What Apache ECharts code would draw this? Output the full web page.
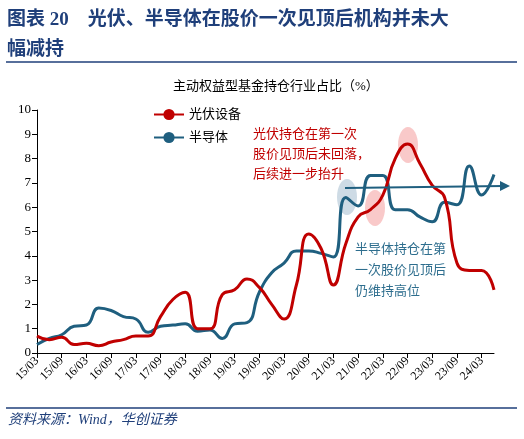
<!DOCTYPE html>
<html>
<head>
<meta charset="utf-8">
<script src="https://cdn.jsdelivr.net/npm/echarts@6/dist/echarts.min.js"></script>
<style>html,body{margin:0;padding:0;background:#fff}#chart{width:524px;height:439px}</style>
</head>
<body>
<div id="chart"></div>
<script>
const quarters = ['15/03','15/06','15/09','15/12','16/03','16/06','16/09','16/12','17/03','17/06','17/09','17/12',
  '18/03','18/06','18/09','18/12','19/03','19/06','19/09','19/12','20/03','20/06','20/09','20/12',
  '21/03','21/06','21/09','21/12','22/03','22/06','22/09','22/12','23/03','23/06','23/09','23/12','24/03','24/06'];
const solar = [0.7,0.55,0.65,0.35,0.4,0.3,0.45,0.55,0.7,0.7,1.5,2.2,2.5,1.0,1.0,2.4,2.6,3.05,2.7,2.0,1.4,2.8,4.9,4.3,
  2.8,4.5,5.6,5.9,6.5,8.0,8.6,7.8,6.9,6.4,3.7,3.4,3.4,2.6];
const semi = [0.35,0.6,0.75,1.1,1.15,1.85,1.75,1.5,1.4,0.85,1.1,1.15,1.2,0.9,0.95,0.6,1.2,1.25,2.5,3.3,3.7,4.2,4.2,4.1,
  3.95,6.4,6.05,7.3,7.3,5.9,5.9,5.6,5.4,6.2,6.1,7.7,6.5,7.35];

const RED = '#c00000', BLUE = '#1f5f7f', NAVY = '#1f3f7a';
const serif = 'Liberation Serif, Noto Sans CJK SC';
const chart = echarts.init(document.getElementById('chart'));
chart.setOption({
  animation: false,
  grid: { left: 37, right: 30, top: 110, bottom: 86 },
  legend: {
    orient: 'vertical', left: 148, top: 103, itemGap: 10, itemWidth: 30, itemHeight: 14,
    textStyle: { fontSize: 13, color: '#000', fontFamily: serif },
    data: ['光伏设备', '半导体']
  },
  xAxis: {
    type: 'category', data: quarters, boundaryGap: false,
    axisLine: { lineStyle: { color: '#000' } },
    axisTick: { interval: 1, lineStyle: { color: '#000' } },
    axisLabel: { interval: 1, rotate: 45, fontSize: 12, color: '#000', fontFamily: serif, margin: 6 }
  },
  yAxis: {
    type: 'value', min: 0, max: 10, interval: 1,
    splitLine: { show: false },
    axisLine: { show: true, lineStyle: { color: '#000' } },
    axisTick: { show: true, lineStyle: { color: '#000' } },
    axisLabel: { fontSize: 13, color: '#000', fontFamily: serif, margin: 6 }
  },
  series: [
    { name: '光伏设备', type: 'line', data: solar, smooth: 0.5, symbol: 'none', lineStyle: { color: RED, width: 3 }, itemStyle: { color: RED }, z: 3 },
    { name: '半导体', type: 'line', data: semi, smooth: 0.5, symbol: 'none', lineStyle: { color: BLUE, width: 3 }, itemStyle: { color: BLUE }, z: 2 }
  ],
  graphic: [
    { type: 'text', left: 7, top: 5, style: { text: '图表 20　光伏、半导体在股价一次见顶后机构并未大\n幅减持', fill: NAVY, font: 'bold 19px ' + serif, lineHeight: 30 } },
    { type: 'line', shape: { x1: 6, y1: 62, x2: 517, y2: 62 }, style: { stroke: NAVY, lineWidth: 1.5 } },
    { type: 'text', left: 173, top: 80, style: { text: '主动权益型基金持仓行业占比（%）', fill: '#000', font: '13px ' + serif } },
    { type: 'line', shape: { x1: 6, y1: 408, x2: 517, y2: 408 }, style: { stroke: NAVY, lineWidth: 1.5 } },
    { type: 'text', left: 8, top: 413, style: { text: '资料来源：Wind，华创证券', fill: NAVY, font: 'italic 14px ' + serif } },
    { type: 'ellipse', shape: { cx: 408, cy: 145, rx: 10, ry: 18 }, style: { fill: 'rgba(240,120,120,0.4)' }, z: 1 },
    { type: 'ellipse', shape: { cx: 375, cy: 208, rx: 10, ry: 18 }, style: { fill: 'rgba(240,120,120,0.4)' }, z: 1 },
    { type: 'ellipse', shape: { cx: 347, cy: 197, rx: 10, ry: 18 }, style: { fill: 'rgba(60,110,150,0.25)' }, z: 1 },
    { type: 'line', shape: { x1: 345, y1: 188, x2: 503, y2: 186 }, style: { stroke: BLUE, lineWidth: 2 }, z: 10 },
    { type: 'polygon', shape: { points: [[510, 186], [500, 181], [500, 191]] }, style: { fill: BLUE }, z: 10 },
    { type: 'text', left: 253, top: 123, style: { text: '光伏持仓在第一次\n股价见顶后未回落，\n后续进一步抬升', fill: RED, font: '13px Noto Sans CJK SC', lineHeight: 20 }, z: 10 },
    { type: 'text', left: 355, top: 238, style: { text: '半导体持仓在第\n一次股价见顶后\n仍维持高位', fill: '#2e6e8e', font: '13px Noto Sans CJK SC', lineHeight: 21 }, z: 10 }
  ]
});
</script>
</body>
</html>
